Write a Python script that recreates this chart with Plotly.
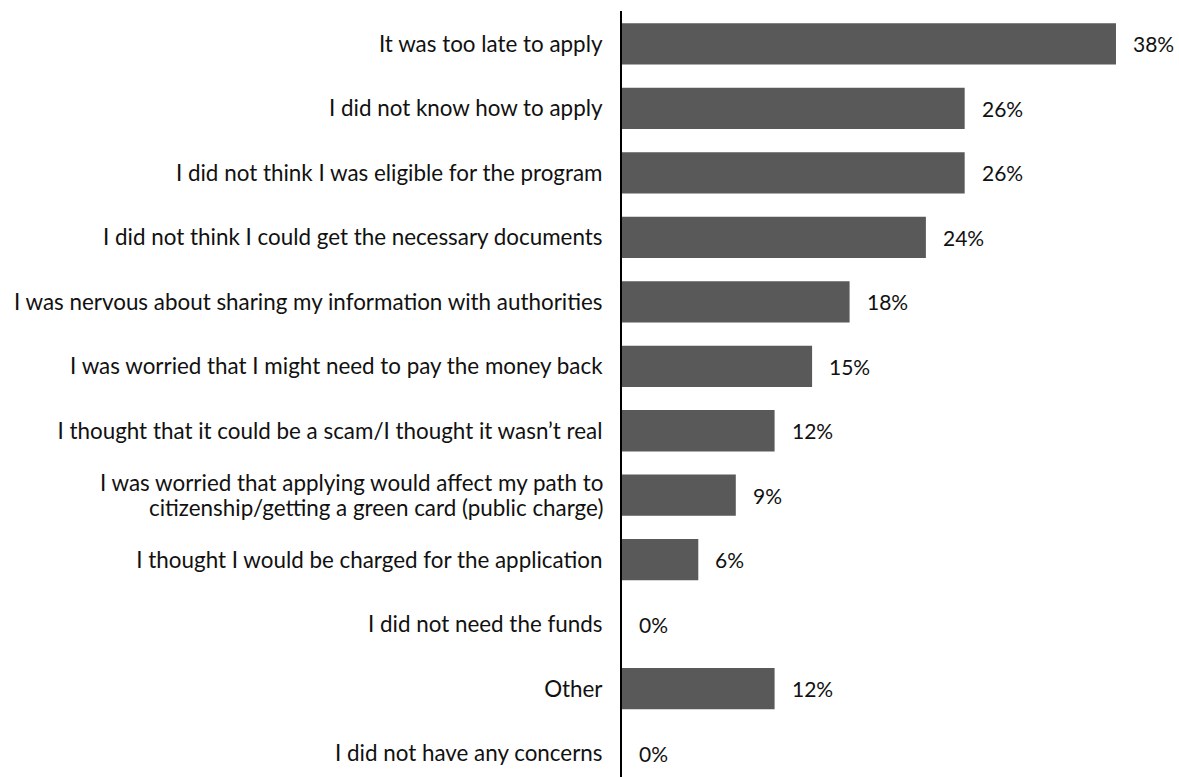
import plotly.graph_objects as go

categories = [
    "It was too late to apply",
    "I did not know how to apply",
    "I did not think I was eligible for the program",
    "I did not think I could get the necessary documents",
    "I was nervous about sharing my information with authorities",
    "I was worried that I might need to pay the money back",
    "I thought that it could be a scam/I thought it wasn\u2019t real",
    "I was worried that applying would affect my path to citizenship/getting a green card (public charge)",
    "I thought I would be charged for the application",
    "I did not need the funds",
    "Other",
    "I did not have any concerns",
]
# wrapped lines for the long label
wrapped = {
    categories[7]: ["I was worried that applying would affect my path to",
                    "citizenship/getting a green card (public charge)"],
}
values = [38.2, 26.5, 26.5, 23.5, 17.6, 14.7, 11.8, 8.8, 5.9, 0, 11.8, 0]
value_labels = ["38%", "26%", "26%", "24%", "18%", "15%", "12%", "9%", "6%", "0%", "12%", "0%"]

FONT = "Lato, 'Open Sans', sans-serif"
FS = 22.4
VFS = 21
TXT = "#111111"

fig = go.Figure()
fig.add_trace(go.Bar(
    x=values,
    y=categories,
    orientation="h",
    marker=dict(color="#595959", line=dict(width=0)),
    hoverinfo="skip",
))

for c, v, t in zip(categories, values, value_labels):
    fig.add_annotation(
        x=v, y=c, text=t, showarrow=False,
        xanchor="left", yanchor="middle", xshift=15,
        font=dict(family=FONT, size=VFS, color=TXT),
    )

# multi-line category label with tighter line spacing
for c, lines in wrapped.items():
    for i, line in enumerate(lines):
        fig.add_annotation(
            xref="paper", x=0, y=c, text=line, showarrow=False,
            xanchor="right", yanchor="middle", xshift=-17,
            yshift=13 - i * 25,
            font=dict(family=FONT, size=FS, color=TXT),
        )

ticktext = ["" if c in wrapped else c for c in categories]

fig.update_layout(
    width=1179, height=777,
    margin=dict(l=622, r=10, t=11, b=0),
    plot_bgcolor="white", paper_bgcolor="white",
    bargap=0.36,
    showlegend=False,
    font=dict(family=FONT, size=FS, color=TXT),
)
fig.update_xaxes(
    range=[0, 42.3], showgrid=False, zeroline=False,
    showticklabels=False, showline=False, ticks="",
)
fig.update_yaxes(
    categoryorder="array", categoryarray=categories,
    tickmode="array", tickvals=categories, ticktext=ticktext,
    range=[11.37, -0.51], showgrid=False, zeroline=False,
    showline=True, linecolor="black", linewidth=2,
    ticks="outside", ticklen=13, tickcolor="rgba(0,0,0,0)",
    tickfont=dict(family=FONT, size=FS, color=TXT),
)

fig.write_html(
    "out.html",
    config={"displayModeBar": False},
    post_script="document.body.style.margin='0';document.body.style.overflow='hidden';",
)
